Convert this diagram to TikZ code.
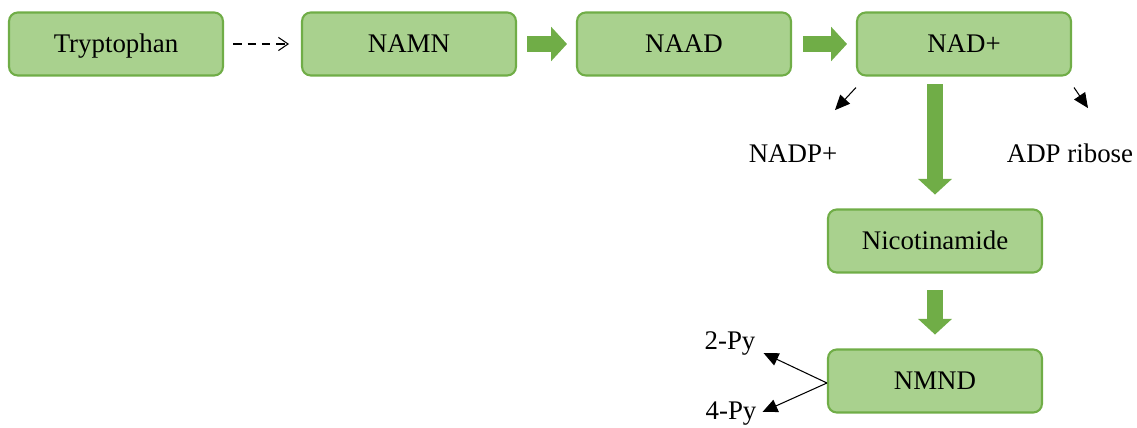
\documentclass[tikz,border=0pt]{standalone}
\usepackage{fontspec}
\setmainfont{Liberation Serif}
\usetikzlibrary{arrows.meta,calc}
\definecolor{boxfill}{HTML}{A9D18E}
\definecolor{boxline}{HTML}{70AD47}
\tikzset{
  stepbox/.style={draw=boxline, fill=boxfill, line width=1.2pt, rounded corners=5pt,
    minimum width=4.28cm, minimum height=1.26cm, inner sep=0pt,
    text height=10pt, text depth=0pt,
    font=\fontsize{15.3}{18}\selectfont},
  lbl/.style={inner sep=1pt, text height=10pt, text depth=0pt, font=\fontsize{15.3}{18}\selectfont},
  bigarrow/.style={draw=boxline, line width=9.4pt, -{Triangle[length=9pt,width=19pt]}, color=boxline},
  thinarrow/.style={draw=black, line width=0.6pt, -{Triangle[length=8.5pt,width=7.5pt]}},
  dasharrow/.style={draw=black, line width=0.6pt, dash pattern=on 4.8pt off 3.4pt, -{Straight Barb[length=5.5pt,width=7.5pt]}}
}
\begin{document}
\begin{tikzpicture}[x=0.02cm,y=-0.02cm]
\useasboundingbox (0,0) rectangle (1137,428);
\node[stepbox] (trp) at (116,44) {Tryptophan};
\node[stepbox] (namn) at (409,44) {NAMN};
\node[stepbox] (naad) at (684,44) {NAAD};
\node[stepbox] (nad) at (964,44) {NAD+};
\node[stepbox] (nic) at (935,241) {Nicotinamide};
\node[stepbox] (nmnd) at (935,381) {NMND};
\node[lbl] (nadp) at (793,154) {NADP+};
\node[lbl] (adp) at (1070,154) {ADP ribose};
\node[lbl] (py2) at (730,341) {2-Py};
\node[lbl] (py4) at (731,411) {4-Py};

\draw[dasharrow, shorten <=5.2pt, shorten >=6.8pt] (trp.east) -- (namn.west);
\draw[bigarrow, shorten <=5.7pt, shorten >=5.1pt] (namn.east) -- (naad.west);
\draw[bigarrow, shorten <=6.2pt, shorten >=5.1pt] (naad.east) -- (nad.west);
\draw[bigarrow, shorten <=4.5pt, shorten >=7.9pt] (nad.south -| nic.north) -- (nic.north);
\draw[bigarrow, shorten <=9.6pt, shorten >=7.9pt] (nic.south) -- (nmnd.north);

\coordinate (nadpS) at ($(nad.south west)+(0,11)$);
\coordinate (nadpE) at ($(nadp.north)+(42,-33)$);
\draw[thinarrow] (nadpS) -- (nadpE);
\coordinate (adpS) at ($(nad.south east)+(2,11)$);
\coordinate (adpE) at ($(adp.north)+(18,-35)$);
\draw[thinarrow] (adpS) -- (adpE);
\coordinate (pyS) at ($(nmnd.west)+(0,2)$);
\coordinate (py2E) at ($(py2.east)+(6,12)$);
\coordinate (py4E) at ($(py4.east)+(4,1)$);
\draw[thinarrow] (pyS) -- (py2E);
\draw[thinarrow] (pyS) -- (py4E);
\end{tikzpicture}
\end{document}
